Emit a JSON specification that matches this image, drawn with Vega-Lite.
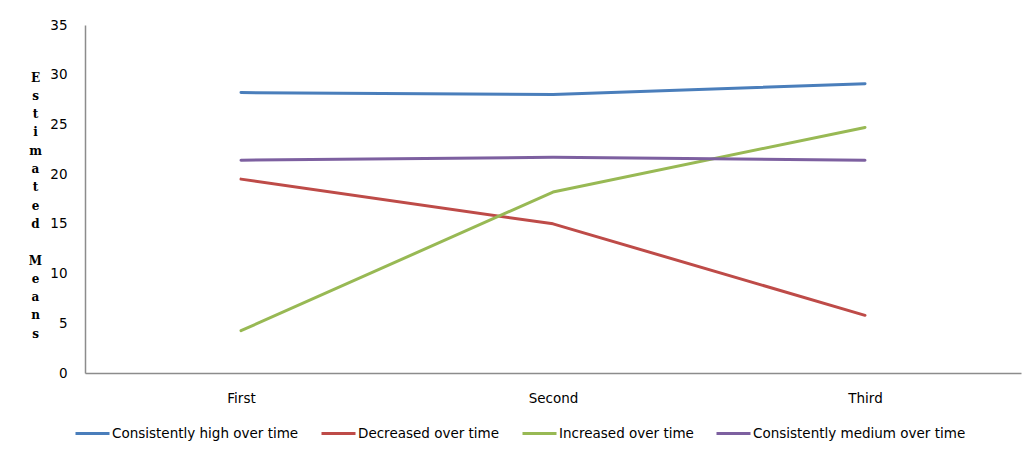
{
  "$schema": "https://vega.github.io/schema/vega-lite/v6.json",
  "width": 936,
  "height": 348,
  "autosize": {"type": "none"},
  "padding": {"left": 85, "top": 25, "right": 11, "bottom": 83},
  "background": "white",
  "config": {
    "view": {"stroke": null},
    "font": "DejaVu Sans"
  },
  "data": {
    "values": [
      {"time": "First", "group": "Consistently high over time", "mean": 28.2},
      {"time": "Second", "group": "Consistently high over time", "mean": 28.0},
      {"time": "Third", "group": "Consistently high over time", "mean": 29.1},
      {"time": "First", "group": "Decreased over time", "mean": 19.5},
      {"time": "Second", "group": "Decreased over time", "mean": 15.0},
      {"time": "Third", "group": "Decreased over time", "mean": 5.8},
      {"time": "First", "group": "Increased over time", "mean": 4.25},
      {"time": "Second", "group": "Increased over time", "mean": 18.2},
      {"time": "Third", "group": "Increased over time", "mean": 24.7},
      {"time": "First", "group": "Consistently medium over time", "mean": 21.4},
      {"time": "Second", "group": "Consistently medium over time", "mean": 21.7},
      {"time": "Third", "group": "Consistently medium over time", "mean": 21.4}
    ]
  },
  "mark": {"type": "line", "strokeWidth": 3, "strokeCap": "round", "strokeJoin": "round"},
  "encoding": {
    "x": {
      "field": "time",
      "type": "ordinal",
      "sort": ["First", "Second", "Third"],
      "scale": {"type": "point", "padding": 0.5},
      "axis": {
        "title": null,
        "labelAngle": 0,
        "ticks": false,
        "tickSize": 0,
        "labelPadding": 18,
        "labelFontSize": 13.5,
        "labelColor": "#000000",
        "domainColor": "#8c8c8c",
        "domainWidth": 1.5,
        "grid": false
      }
    },
    "y": {
      "field": "mean",
      "type": "quantitative",
      "scale": {"domain": [0, 35], "nice": false},
      "axis": {
        "values": [0, 5, 10, 15, 20, 25, 30, 35],
        "title": ["E", "s", "t", "i", "m", "a", "t", "e", "d", "\u2800", "M", "e", "a", "n", "s"],
        "titleAngle": 0,
        "titleFont": "DejaVu Serif",
        "titleFontWeight": "bold",
        "titleFontSize": 12,
        "titleLineHeight": 18.3,
        "titleAlign": "center",
        "titleBaseline": "middle",
        "titleX": -50,
        "titleY": 52,
        "titleColor": "#000000",
        "ticks": false,
        "tickSize": 0,
        "labelPadding": 18,
        "labelFontSize": 13.5,
        "labelColor": "#000000",
        "domainColor": "#8c8c8c",
        "domainWidth": 1.5,
        "grid": false
      }
    },
    "color": {
      "field": "group",
      "type": "nominal",
      "scale": {
        "domain": ["Consistently high over time", "Decreased over time", "Increased over time", "Consistently medium over time"],
        "range": ["#4A7EBB", "#BE4B48", "#98B954", "#7D60A0"]
      },
      "legend": {
        "title": null,
        "orient": "none",
        "direction": "horizontal",
        "legendX": -11,
        "legendY": 390,
        "padding": 0,
        "symbolType": "stroke",
        "symbolSize": 1156,
        "symbolStrokeWidth": 3,
        "labelOffset": 1,
        "columnPadding": 16,
        "labelFontSize": 13.5,
        "labelColor": "#000000",
        "labelLimit": 400
      }
    }
  }
}
